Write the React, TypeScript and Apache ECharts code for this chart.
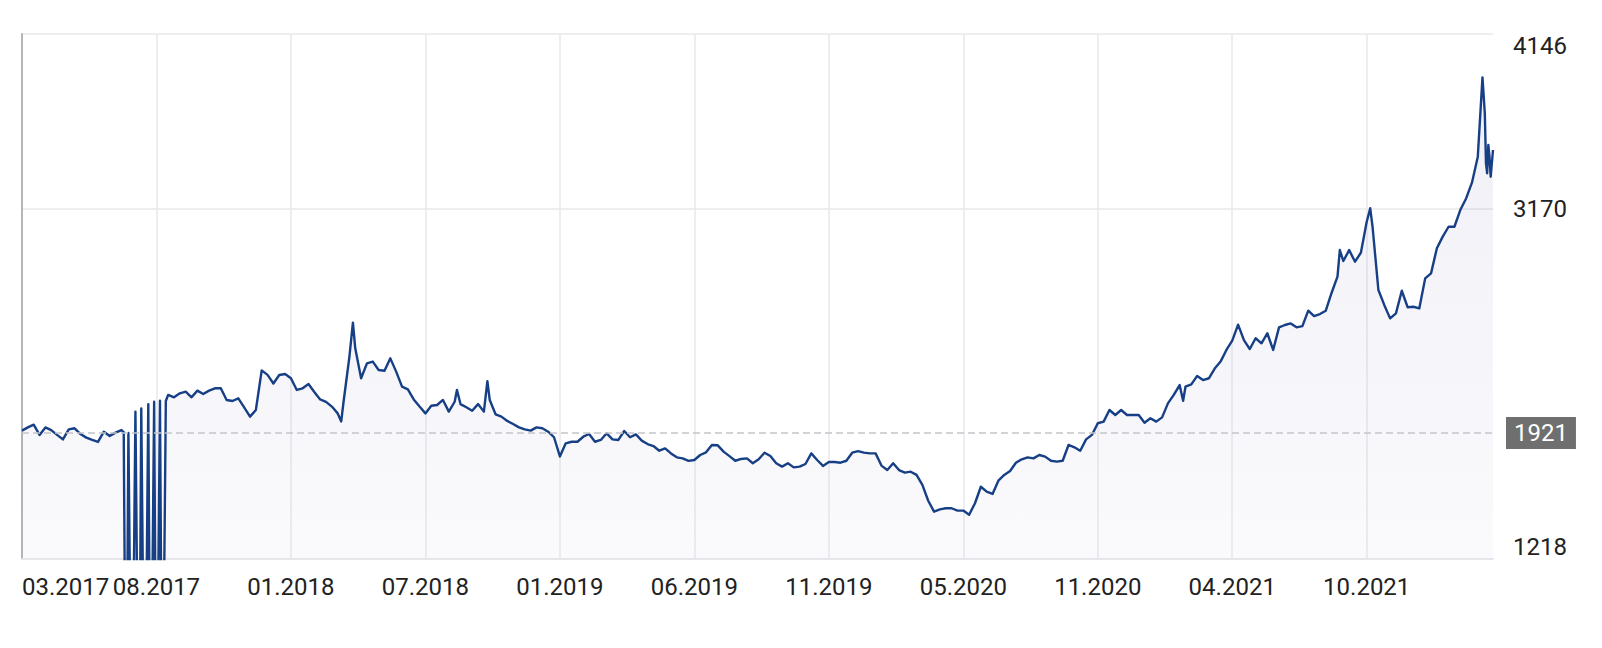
import React, { useEffect, useRef } from "react";
import * as echarts from "echarts";

// x-axis: trading-day index since the start of the series, labelled every tickStep days
const tickLabels = ["03.2017", "08.2017", "01.2018", "07.2018", "01.2019", "06.2019", "11.2019", "05.2020", "11.2020", "04.2021", "10.2021"];
const tickStep = 115;
const lastDay = 1258;

// y-axis
const yMin = 1218;
const yMax = 4146;
const yLabels = [1218, 3170, 4146];
const referenceLevel = 1921;

const tradingDays = [
  0, 5, 10, 15, 20, 25, 30, 35, 40, 45, 50, 55, 60, 65, 70, 75, 80, 85, 87, 89,
  91, 94, 97, 100, 102, 105, 108, 110, 113, 115, 118, 120, 123, 125, 130, 135, 140, 145, 150, 155,
  160, 165, 170, 175, 180, 185, 190, 195, 200, 205, 210, 215, 220, 225, 230, 235, 240, 245, 250, 255,
  260, 265, 270, 273, 275, 280, 283, 285, 290, 295, 300, 305, 310, 315, 320, 325, 330, 335, 340, 345,
  350, 355, 360, 365, 370, 372, 375, 380, 385, 390, 395, 398, 400, 405, 410, 415, 420, 425, 430, 435,
  440, 445, 450, 455, 460, 465, 470, 475, 480, 485, 490, 495, 500, 505, 510, 515, 520, 525, 530, 535,
  540, 545, 550, 555, 560, 565, 570, 575, 580, 585, 590, 595, 600, 605, 610, 615, 620, 625, 630, 635,
  640, 645, 650, 655, 660, 665, 670, 675, 680, 685, 690, 695, 700, 705, 710, 715, 720, 725, 730, 735,
  740, 745, 750, 755, 760, 765, 770, 775, 780, 785, 790, 795, 800, 805, 810, 815, 820, 825, 830, 835,
  840, 845, 850, 855, 860, 865, 870, 875, 880, 885, 890, 895, 900, 905, 910, 915, 920, 925, 930, 935,
  940, 945, 950, 955, 960, 965, 970, 975, 980, 985, 990, 993, 995, 1000, 1005, 1010, 1015, 1020, 1025, 1030,
  1035, 1040, 1045, 1050, 1055, 1060, 1065, 1070, 1075, 1080, 1085, 1090, 1095, 1100, 1105, 1110, 1115, 1120, 1125, 1127,
  1130, 1135, 1140, 1145, 1150, 1153, 1155, 1160, 1165, 1170, 1175, 1180, 1185, 1190, 1195, 1200, 1205, 1210, 1215, 1220,
  1225, 1230, 1235, 1240, 1245, 1249, 1251, 1252, 1253, 1254, 1255, 1256, 1257, 1258,
];

const prices = [
  1934, 1952, 1967, 1910, 1952, 1937, 1910, 1885, 1941, 1947, 1915, 1895, 1882, 1871, 1928, 1904, 1923, 1937, 1925, 0,
  1921, 0, 2040, 0, 2058, 0, 2082, 0, 2095, 0, 2101, 0, 2099, 2133, 2120, 2142, 2151, 2120, 2157, 2138,
  2157, 2170, 2170, 2105, 2099, 2114, 2064, 2012, 2049, 2270, 2245, 2197, 2244, 2250, 2226, 2161, 2170, 2194, 2149, 2108,
  2094, 2068, 2030, 1985, 2095, 2346, 2536, 2393, 2226, 2309, 2319, 2272, 2268, 2337, 2263, 2179, 2164, 2108, 2068, 2030,
  2073, 2077, 2105, 2040, 2095, 2161, 2082, 2064, 2045, 2082, 2040, 2210, 2105, 2025, 2012, 1988, 1971, 1952, 1941, 1934,
  1952, 1947, 1928, 1897, 1790, 1863, 1872, 1872, 1900, 1915, 1872, 1882, 1919, 1885, 1882, 1932, 1897, 1913, 1878, 1859,
  1848, 1822, 1835, 1807, 1785, 1779, 1765, 1770, 1798, 1813, 1854, 1852, 1817, 1792, 1766, 1776, 1779, 1752, 1774, 1811,
  1792, 1752, 1733, 1752, 1729, 1733, 1748, 1807, 1770, 1737, 1759, 1759, 1755, 1766, 1811, 1820, 1811, 1807, 1807, 1739,
  1714, 1752, 1714, 1700, 1705, 1687, 1631, 1543, 1482, 1495, 1501, 1501, 1488, 1488, 1465, 1529, 1621, 1594, 1581, 1655,
  1687, 1709, 1755, 1774, 1785, 1779, 1798, 1789, 1766, 1761, 1766, 1854, 1841, 1822, 1885, 1910, 1975, 1984, 2049, 2021,
  2049, 2021, 2021, 2021, 1978, 2003, 1984, 2008, 2086, 2133, 2188, 2100, 2179, 2192, 2239, 2216, 2226, 2280, 2319, 2384,
  2436, 2525, 2439, 2389, 2449, 2421, 2477, 2384, 2510, 2523, 2532, 2510, 2517, 2603, 2573, 2584, 2603, 2703, 2793, 2941,
  2880, 2941, 2876, 2926, 3099, 3174, 3071, 2718, 2635, 2560, 2588, 2714, 2622, 2625, 2616, 2783, 2811, 2951, 3016, 3071,
  3071, 3164, 3229, 3317, 3462, 3904, 3704, 3425, 3369, 3527, 3462, 3350, 3425, 3499,
];

const FONT = "Roboto";
const GRID_COLOR = "#e8e8ec";

export default function App() {
  const ref = useRef<HTMLDivElement>(null);

  useEffect(() => {
    if (!ref.current) return;
    const chart = echarts.init(ref.current, undefined, { renderer: "svg" });
    const data = tradingDays.map((d, i) => [d, prices[i]]);

    chart.setOption({
      animation: false,
      backgroundColor: "#ffffff",
      textStyle: { fontFamily: FONT },
      grid: { left: 22, right: 109, top: 34, bottom: 89, containLabel: false },
      xAxis: {
        type: "value",
        min: 0,
        max: lastDay,
        interval: tickStep,
        axisLine: { show: true, lineStyle: { color: GRID_COLOR, width: 2 } },
        axisTick: { show: false },
        splitLine: { show: true, showMinLine: false, showMaxLine: false, lineStyle: { color: GRID_COLOR, width: 1.5 } },
        axisLabel: {
          formatter: (v: number) => tickLabels[Math.round(v / tickStep)] ?? "",
          showMaxLabel: false,
          alignMinLabel: "left",
          fontSize: 24,
          fontFamily: FONT,
          color: "#222222",
          margin: 16,
        },
      },
      yAxis: [
        {
          type: "value",
          position: "right",
          min: yMin,
          max: yMax,
          axisLine: { show: false },
          axisTick: { show: false, customValues: yLabels },
          splitLine: { show: true, lineStyle: { color: GRID_COLOR, width: 1.5 } },
          axisLabel: {
            customValues: yLabels,
            formatter: (v: number) => String(v),
            fontSize: 24,
            fontFamily: FONT,
            color: "#222222",
            margin: 20,
            align: "left",
            verticalAlignMaxLabel: "top",
            verticalAlignMinLabel: "bottom",
          },
        },
        {
          type: "value",
          position: "left",
          min: yMin,
          max: yMax,
          axisLine: { show: true, lineStyle: { color: "#b5b5b8", width: 2 } },
          axisTick: { show: false },
          axisLabel: { show: false },
          splitLine: { show: false },
        },
      ],
      series: [
        {
          type: "line",
          yAxisIndex: 0,
          data,
          showSymbol: false,
          symbol: "none",
          clip: true,
          lineStyle: { color: "#173f86", width: 2.4, join: "round" },
          areaStyle: {
            color: new echarts.graphic.LinearGradient(0, 34, 0, 559, [
              { offset: 0, color: "rgba(40,40,140,0.11)" },
              { offset: 1, color: "rgba(40,40,140,0.03)" },
            ], true),
          },
          markLine: {
            silent: true,
            symbol: "none",
            lineStyle: { type: [7, 4], color: "#c4c4ca", width: 1.5 },
            label: {
              show: true,
              position: "end",
              distance: 13,
              formatter: String(referenceLevel),
              backgroundColor: "#6f6f6f",
              color: "#ffffff",
              fontSize: 24,
              fontFamily: FONT,
              padding: [4, 8],
            },
            data: [{ yAxis: referenceLevel }],
          },
        },
      ],
    });

    return () => chart.dispose();
  }, []);

  return <div ref={ref} style={{ position: "fixed", left: 0, top: 0, width: 1602, height: 648 }} />;
}
